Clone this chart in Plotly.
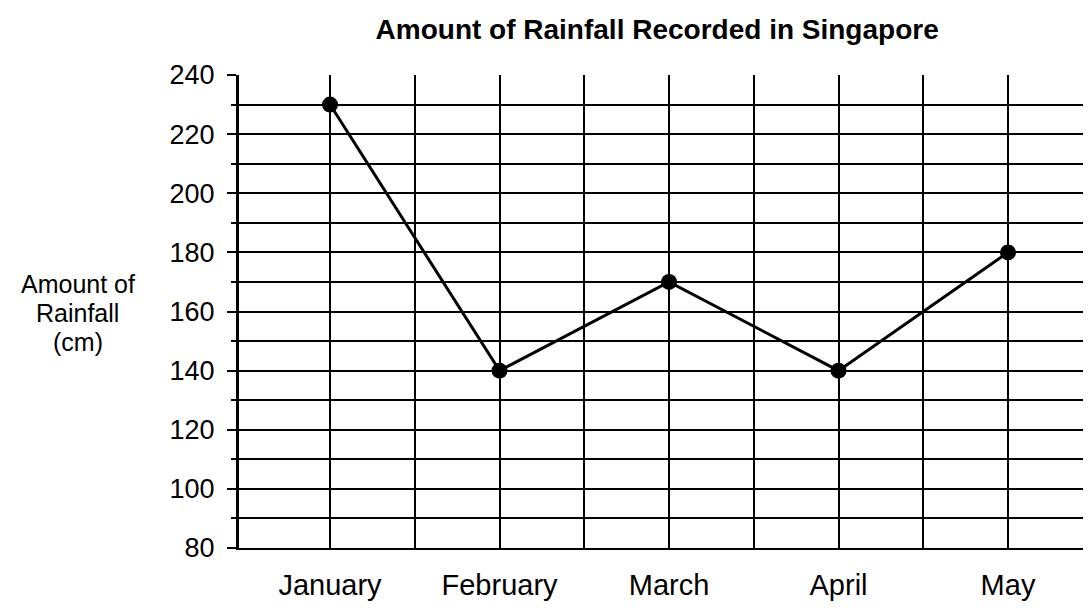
import plotly.graph_objects as go

months = ["January", "February", "March", "April", "May"]
rainfall = [230, 140, 170, 140, 180]
y_ticks = [80, 100, 120, 140, 160, 180, 200, 220, 240]
y_title_lines = ["Amount of", "Rainfall", "(cm)"]

x_pos = list(range(len(months)))
half_pos = [i + 0.5 for i in range(len(months))]

fig = go.Figure()
fig.add_trace(go.Scatter(
    x=x_pos, y=rainfall, mode="lines+markers",
    line=dict(color="black", width=3),
    marker=dict(color="black", size=16),
    showlegend=False, cliponaxis=False,
))

font = "Liberation Sans, Arial, sans-serif"
fig.update_layout(
    width=1091, height=608,
    margin=dict(l=231, r=12, t=67, b=68, autoexpand=False),
    paper_bgcolor="white", plot_bgcolor="white",
    title=dict(text="<b>Amount of Rainfall Recorded in Singapore</b>",
               x=0.595, xanchor="center", y=0.965, yanchor="middle",
               font=dict(family=font, size=28, color="black")),
    font=dict(family=font, color="black"),
)
fig.update_xaxes(
    range=[-0.537, 4.466], automargin=False,
    tickmode="array", tickvals=x_pos, ticktext=months,
    tickfont=dict(size=29, color="black"),
    ticks="", ticklabelstandoff=10,
    showgrid=True, gridcolor="black", gridwidth=2,
    minor=dict(tickmode="array", tickvals=half_pos, showgrid=True,
               gridcolor="black", gridwidth=2),
    showline=True, linecolor="black", linewidth=2, mirror=False,
    zeroline=False,
)
fig.update_yaxes(
    range=[80, 240], automargin=False,
    tickmode="array", tickvals=y_ticks,
    tickfont=dict(size=27, color="black"),
    ticks="outside", ticklen=9, tickwidth=2, tickcolor="black",
    ticklabelstandoff=7,
    showgrid=True, gridcolor="black", gridwidth=2,
    minor=dict(dtick=10, tick0=0, showgrid=True, gridcolor="black", gridwidth=2,
               ticks="outside", ticklen=5, tickwidth=2, tickcolor="black"),
    showline=True, linecolor="black", linewidth=3,
    zeroline=False,
)
for line_text, ypos in zip(y_title_lines, [0.559, 0.497, 0.435]):
    fig.add_annotation(
        text=line_text, xref="paper", yref="paper",
        x=-0.19, y=ypos, xanchor="center", yanchor="middle", showarrow=False,
        font=dict(family=font, size=25, color="black"),
    )

fig.write_html("out.html")
